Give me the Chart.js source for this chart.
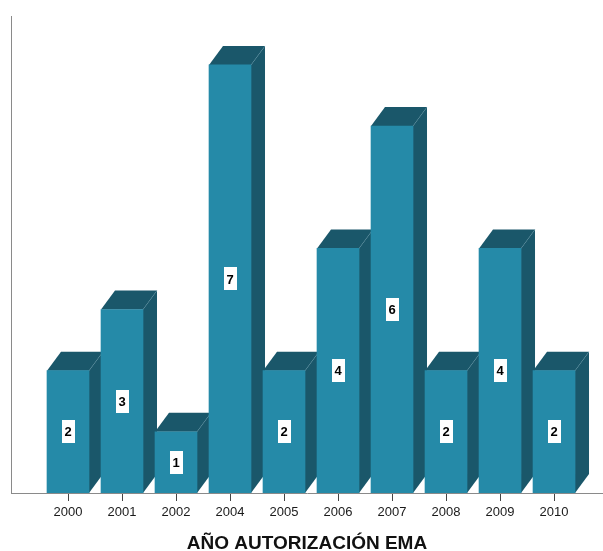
<!DOCTYPE html>
<html>
<head>
<meta charset="utf-8">
<script src="https://cdn.jsdelivr.net/npm/chart.js@4/dist/chart.umd.min.js"></script>
<style>
  html, body { margin: 0; padding: 0; background: #fff; }
  #wrap { width: 603px; height: 551px; }
</style>
</head>
<body>
<div id="wrap"><canvas id="c" width="603" height="551"></canvas></div>
<script>
// Años de autorización y número de EMA por año
const categories = ['2000', '2001', '2002', '2004', '2005', '2006', '2007', '2008', '2009', '2010'];
const counts = [2, 3, 1, 7, 2, 4, 6, 2, 4, 2];
const axisTitle = 'AÑO AUTORIZACIÓN EMA';

const FRONT = 'rgb(37,138,168)';
const DARK = 'rgb(26,87,106)';
const DEPTH_X = 14;
const DEPTH_Y = 19;

// Top and right faces of each bar, drawn behind the front faces
const boxFaces = {
  id: 'boxFaces',
  beforeDatasetsDraw(chart) {
    const ctx = chart.ctx;
    const meta = chart.getDatasetMeta(0);
    ctx.save();
    meta.data.forEach(bar => {
      const p = bar.getProps(['x', 'y', 'base', 'width'], true);
      const l = p.x - p.width / 2, r = p.x + p.width / 2;
      const t = p.y, b = p.base;
      ctx.fillStyle = DARK;
      // right side
      ctx.beginPath();
      ctx.moveTo(r, b);
      ctx.lineTo(r + DEPTH_X, b - DEPTH_Y);
      ctx.lineTo(r + DEPTH_X, t - DEPTH_Y);
      ctx.lineTo(r, t);
      ctx.closePath();
      ctx.fill();
      // top
      ctx.beginPath();
      ctx.moveTo(l, t);
      ctx.lineTo(l + DEPTH_X, t - DEPTH_Y);
      ctx.lineTo(r + DEPTH_X, t - DEPTH_Y);
      ctx.lineTo(r, t);
      ctx.closePath();
      ctx.fill();
      // faint edge between top and side
      ctx.strokeStyle = 'rgba(90,150,170,0.3)';
      ctx.lineWidth = 1;
      ctx.beginPath();
      ctx.moveTo(r, t);
      ctx.lineTo(r + DEPTH_X, t - DEPTH_Y);
      ctx.stroke();
    });
    ctx.restore();
  }
};

// White boxed count in the middle of each front face
const countLabels = {
  id: 'countLabels',
  afterDatasetsDraw(chart) {
    const ctx = chart.ctx;
    const meta = chart.getDatasetMeta(0);
    const values = chart.data.datasets[0].data;
    ctx.save();
    ctx.font = 'bold 13px "Liberation Sans", Arial, sans-serif';
    ctx.textAlign = 'center';
    ctx.textBaseline = 'middle';
    meta.data.forEach((bar, i) => {
      const p = bar.getProps(['x', 'y', 'base'], true);
      const cy = (p.y + p.base) / 2;
      const cx = p.x;
      ctx.fillStyle = '#ffffff';
      ctx.fillRect(Math.round(cx - 6.5), Math.round(cy - 11.5), 13, 23);
      ctx.fillStyle = '#000000';
      ctx.fillText(String(values[i].y), cx, cy + 1);
    });
    ctx.restore();
  }
};

new Chart(document.getElementById('c'), {
  type: 'bar',
  data: {
    datasets: [{
      data: categories.map((c, i) => ({ x: i, y: counts[i] })),
      backgroundColor: FRONT,
      borderWidth: 0,
      barThickness: 42
    }]
  },
  options: {
    responsive: false,
    animation: false,
    devicePixelRatio: 1,
    layout: { padding: { left: 11, right: 0, top: 16, bottom: 0 } },
    plugins: {
      legend: { display: false },
      tooltip: { enabled: false }
    },
    scales: {
      x: {
        type: 'linear',
        offset: false,
        min: -1.0556,
        max: 9.907,
        afterBuildTicks(scale) {
          scale.ticks = categories.map((c, i) => ({ value: i }));
        },
        afterFit(scale) { scale.height = 58; },
        ticks: {
          callback: (v) => categories[v] ?? '',
          color: '#1a1a1a',
          font: { family: '"Liberation Sans", Arial, sans-serif', size: 13 },
          padding: 4,
          maxRotation: 0,
          autoSkip: false
        },
        grid: {
          offset: false,
          display: true,
          drawOnChartArea: false,
          drawTicks: true,
          tickLength: 8,
          color: '#444'
        },
        border: { display: true, color: '#8a8a8a', width: 1 },
        title: {
          display: true,
          text: axisTitle,
          color: '#111',
          font: { family: '"Liberation Sans", Arial, sans-serif', size: 19, weight: 'bold', lineHeight: '15px' },
          padding: { top: 0, bottom: 0 }
        }
      },
      y: {
        min: 0,
        max: 7.8,
        afterFit(scale) { scale.width = 0; },
        ticks: { display: false },
        grid: { display: false },
        border: { display: true, color: '#8a8a8a', width: 1 }
      }
    }
  },
  plugins: [boxFaces, countLabels]
});
</script>
</body>
</html>
